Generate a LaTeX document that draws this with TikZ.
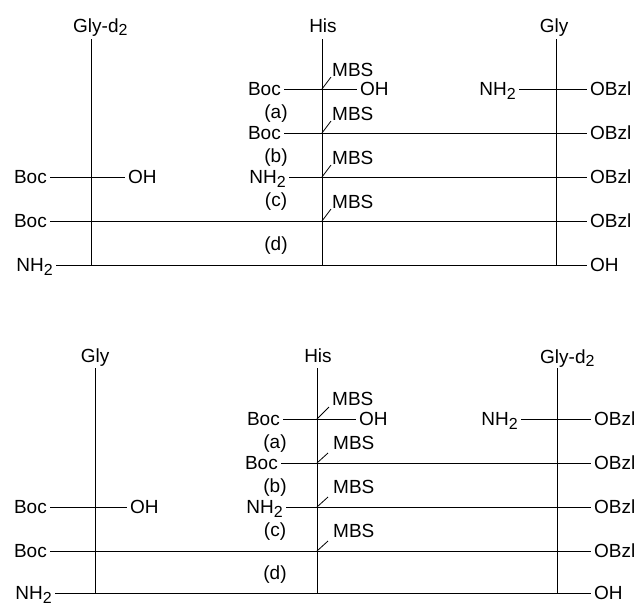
\documentclass[tikz,border=0pt]{standalone}
\usepackage{fontspec}
\setmainfont{Liberation Sans}
\newcommand{\subtwo}{\raisebox{-3.8pt}{\fontsize{16}{16}\selectfont 2}}
\begin{document}
\begin{tikzpicture}[x=1pt,y=-1pt,
  lab/.style={font=\fontsize{19}{19}\selectfont, inner xsep=3pt, inner ysep=0pt, text height=13.4pt, text depth=0pt},
  bond/.style={line width=0.9pt, black},
  tick/.style={line width=0.8pt, black}]
\useasboundingbox (0,0) rectangle (635,603);

% ================= TOP PANEL =================
\node[lab, anchor=base west] (tA) at (70,32) {Gly-d\subtwo};
\node[lab, anchor=base] (tB) at (323,32) {His};
\node[lab, anchor=base] (tC) at (554,32) {Gly};
\coordinate (tAtop) at (91,39);  \coordinate (tAbot) at (91,265);
\coordinate (tBtop) at (322,39); \coordinate (tBbot) at (322,265);
\coordinate (tCtop) at (556,39); \coordinate (tCbot) at (556,265);
\draw[bond] (tAtop) -- (tAbot);
\draw[bond] (tBtop) -- (tBbot);
\draw[bond] (tCtop) -- (tCbot);

% row 1
\node[lab, anchor=east] (t1a) at (284,89) {Boc};
\node[lab, anchor=west] (t1b) at (357,89) {OH};
\node[lab, anchor=east] (t1c) at (519,89) {NH\subtwo};
\node[lab, anchor=west] (t1d) at (587,89) {OBzl};
\draw[bond] (t1a.east) -- (t1b.west);
\draw[bond] (t1c.east) -- (t1d.west);
\coordinate (t1x) at (322,89); \coordinate (t1m) at (331,77);
\draw[tick] (t1x) -- (t1m);
\node[lab, anchor=base west] (t1mbs) at (329,76) {MBS};

\node[lab] (ta) at (276,112) {(a)};

% row 2
\node[lab, anchor=east] (t2a) at (284,133) {Boc};
\node[lab, anchor=west] (t2d) at (587,133) {OBzl};
\draw[bond] (t2a.east) -- (t2d.west);
\coordinate (t2x) at (322,133); \coordinate (t2m) at (331,121);
\draw[tick] (t2x) -- (t2m);
\node[lab, anchor=base west] (t2mbs) at (329,120) {MBS};

\node[lab] (tb) at (276,156) {(b)};

% row 3
\node[lab, anchor=east] (t3a) at (50,177) {Boc};
\node[lab, anchor=west] (t3b) at (125,177) {OH};
\node[lab, anchor=east] (t3c) at (289,177) {NH\subtwo};
\node[lab, anchor=west] (t3d) at (587,177) {OBzl};
\draw[bond] (t3a.east) -- (t3b.west);
\draw[bond] (t3c.east) -- (t3d.west);
\coordinate (t3x) at (322,177); \coordinate (t3m) at (331,165);
\draw[tick] (t3x) -- (t3m);
\node[lab, anchor=base west] (t3mbs) at (329,164) {MBS};

\node[lab] (tc) at (276,200) {(c)};

% row 4
\node[lab, anchor=east] (t4a) at (50,221) {Boc};
\node[lab, anchor=west] (t4d) at (587,221) {OBzl};
\draw[bond] (t4a.east) -- (t4d.west);
\coordinate (t4x) at (322,221); \coordinate (t4m) at (331,209);
\draw[tick] (t4x) -- (t4m);
\node[lab, anchor=base west] (t4mbs) at (329,208) {MBS};

\node[lab] (td) at (276,244) {(d)};

% row 5
\node[lab, anchor=east] (t5a) at (56,265) {NH\subtwo};
\node[lab, anchor=west] (t5d) at (587,265) {OH};
\draw[bond] (t5a.east) -- (t5d.west);

% ================= BOTTOM PANEL =================
\node[lab, anchor=base] (bA) at (95,362) {Gly};
\node[lab, anchor=base] (bB) at (318,362) {His};
\node[lab, anchor=base west] (bC) at (537,363) {Gly-d\subtwo};
\coordinate (bAtop) at (95,368);  \coordinate (bAbot) at (95,593);
\coordinate (bBtop) at (317,368); \coordinate (bBbot) at (317,593);
\coordinate (bCtop) at (557,368); \coordinate (bCbot) at (557,593);
\draw[bond] (bAtop) -- (bAbot);
\draw[bond] (bBtop) -- (bBbot);
\draw[bond] (bCtop) -- (bCbot);

% row 1
\node[lab, anchor=east] (b1a) at (283,419) {Boc};
\node[lab, anchor=west] (b1b) at (356,419) {OH};
\node[lab, anchor=east] (b1c) at (521,419) {NH\subtwo};
\node[lab, anchor=west] (b1d) at (591,419) {OBzl};
\draw[bond] (b1a.east) -- (b1b.west);
\draw[bond] (b1c.east) -- (b1d.west);
\coordinate (b1x) at (317,419); \coordinate (b1m) at (329,407);
\draw[tick] (b1x) -- (b1m);
\node[lab, anchor=base west] (b1mbs) at (329,405) {MBS};

\node[lab] (ba) at (275,442) {(a)};

% row 2
\node[lab, anchor=east] (b2a) at (281,463) {Boc};
\node[lab, anchor=west] (b2d) at (591,463) {OBzl};
\draw[bond] (b2a.east) -- (b2d.west);
\coordinate (b2x) at (317,463); \coordinate (b2m) at (328,453);
\draw[tick] (b2x) -- (b2m);
\node[lab, anchor=base west] (b2mbs) at (330,449) {MBS};

\node[lab] (bb) at (275,486) {(b)};

% row 3
\node[lab, anchor=east] (b3a) at (50,507) {Boc};
\node[lab, anchor=west] (b3b) at (127,507) {OH};
\node[lab, anchor=east] (b3c) at (286,507) {NH\subtwo};
\node[lab, anchor=west] (b3d) at (591,507) {OBzl};
\draw[bond] (b3a.east) -- (b3b.west);
\draw[bond] (b3c.east) -- (b3d.west);
\coordinate (b3x) at (317,507); \coordinate (b3m) at (328,497);
\draw[tick] (b3x) -- (b3m);
\node[lab, anchor=base west] (b3mbs) at (330,493) {MBS};

\node[lab] (bc) at (275,530) {(c)};

% row 4
\node[lab, anchor=east] (b4a) at (50,551) {Boc};
\node[lab, anchor=west] (b4d) at (591,551) {OBzl};
\draw[bond] (b4a.east) -- (b4d.west);
\coordinate (b4x) at (317,551); \coordinate (b4m) at (328,541);
\draw[tick] (b4x) -- (b4m);
\node[lab, anchor=base west] (b4mbs) at (330,537) {MBS};

\node[lab] (bd) at (275,573) {(d)};

% row 5
\node[lab, anchor=east] (b5a) at (55,593) {NH\subtwo};
\node[lab, anchor=west] (b5d) at (591,593) {OH};
\draw[bond] (b5a.east) -- (b5d.west);
\end{tikzpicture}
\end{document}
